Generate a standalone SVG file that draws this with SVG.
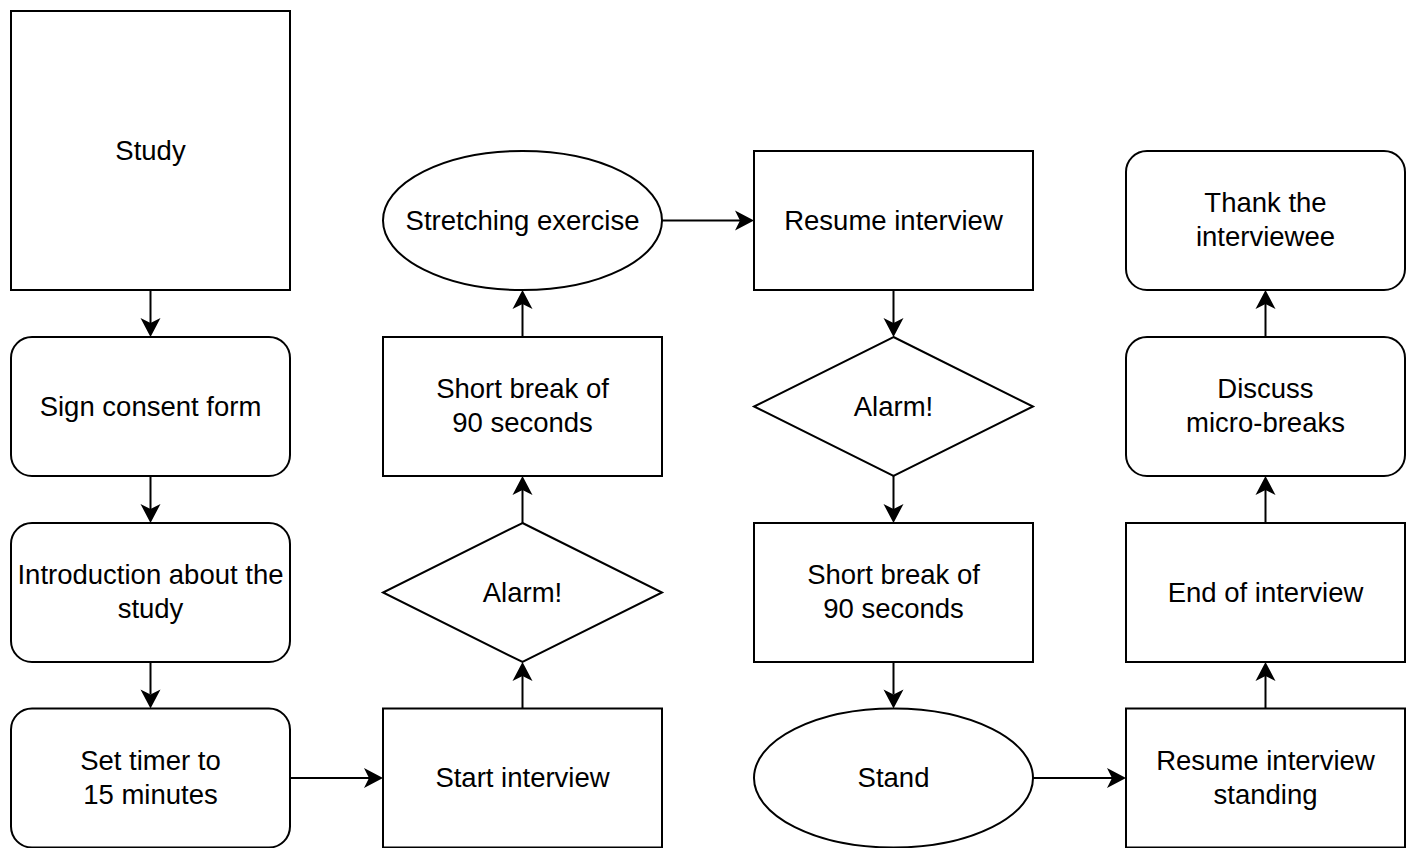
<svg xmlns="http://www.w3.org/2000/svg" width="1412" height="848" viewBox="0 0 1412 848">
  <style>
    .shape { fill: #ffffff; stroke: #000000; stroke-width: 2; }
    .label { font-family: "Liberation Sans", Arial, Helvetica, sans-serif; font-size: 27.5px; fill: #000000; text-anchor: middle; }
    .edge { fill: none; stroke: #000000; stroke-width: 2; marker-end: url(#arrow); }
  </style>
  <defs>
    <!-- classic filled arrowhead; origin sits at the notch, tip 14px ahead -->
    <marker id="arrow" markerUnits="userSpaceOnUse" viewBox="-6 -11 21 22" markerWidth="21" markerHeight="22" refX="0" refY="0" orient="auto">
      <path d="M14,0 L-5,-10 L0,0 L-5,10 Z" fill="#000000" stroke="none"/>
    </marker>
  </defs>
  <rect width="1412" height="848" fill="#ffffff"/>

  <!-- column 1 -->
  <g id="study">
    <rect class="shape" x="11" y="11" width="279" height="279"/>
    <text class="label" x="150.5" y="159.5">Study</text>
  </g>
  <g id="consent">
    <rect class="shape" x="11" y="337" width="279" height="139" rx="21" ry="21"/>
    <text class="label" x="150.5" y="415.5">Sign consent form</text>
  </g>
  <g id="intro">
    <rect class="shape" x="11" y="523" width="279" height="139" rx="21" ry="21"/>
    <text class="label" x="150.5" y="584">Introduction about the</text>
    <text class="label" x="150.5" y="618">study</text>
  </g>
  <g id="timer">
    <rect class="shape" x="11" y="708.5" width="279" height="139" rx="21" ry="21"/>
    <text class="label" x="150.5" y="769.5">Set timer to</text>
    <text class="label" x="150.5" y="803.5">15 minutes</text>
  </g>

  <!-- column 2 -->
  <g id="start">
    <rect class="shape" x="383" y="708.5" width="279" height="139"/>
    <text class="label" x="522.5" y="787">Start interview</text>
  </g>
  <g id="alarm1">
    <polygon class="shape" points="522.5,523 662,592.5 522.5,662 383,592.5"/>
    <text class="label" x="522.5" y="601.5">Alarm!</text>
  </g>
  <g id="break1">
    <rect class="shape" x="383" y="337" width="279" height="139"/>
    <text class="label" x="522.5" y="398">Short break of</text>
    <text class="label" x="522.5" y="432">90 seconds</text>
  </g>
  <g id="stretch">
    <ellipse class="shape" cx="522.5" cy="220.5" rx="139.5" ry="69.5"/>
    <text class="label" x="522.5" y="230">Stretching exercise</text>
  </g>

  <!-- column 3 -->
  <g id="resume">
    <rect class="shape" x="754" y="151" width="279" height="139"/>
    <text class="label" x="893.5" y="230">Resume interview</text>
  </g>
  <g id="alarm2">
    <polygon class="shape" points="893.5,337 1033,406.5 893.5,476 754,406.5"/>
    <text class="label" x="893.5" y="415.5">Alarm!</text>
  </g>
  <g id="break2">
    <rect class="shape" x="754" y="523" width="279" height="139"/>
    <text class="label" x="893.5" y="584">Short break of</text>
    <text class="label" x="893.5" y="618">90 seconds</text>
  </g>
  <g id="stand">
    <ellipse class="shape" cx="893.5" cy="778" rx="139.5" ry="69.5"/>
    <text class="label" x="893.5" y="787">Stand</text>
  </g>

  <!-- column 4 -->
  <g id="resume-standing">
    <rect class="shape" x="1126" y="708.5" width="279" height="139"/>
    <text class="label" x="1265.5" y="769.5">Resume interview</text>
    <text class="label" x="1265.5" y="803.5">standing</text>
  </g>
  <g id="end">
    <rect class="shape" x="1126" y="523" width="279" height="139"/>
    <text class="label" x="1265.5" y="601.5">End of interview</text>
  </g>
  <g id="discuss">
    <rect class="shape" x="1126" y="337" width="279" height="139" rx="21" ry="21"/>
    <text class="label" x="1265.5" y="398">Discuss</text>
    <text class="label" x="1265.5" y="432">micro-breaks</text>
  </g>
  <g id="thank">
    <rect class="shape" x="1126" y="151" width="279" height="139" rx="21" ry="21"/>
    <text class="label" x="1265.5" y="212">Thank the</text>
    <text class="label" x="1265.5" y="246">interviewee</text>
  </g>

  <!-- connectors -->
  <g id="connectors">
    <path class="edge" d="M150.5,290 V323"/>
    <path class="edge" d="M150.5,476 V509"/>
    <path class="edge" d="M150.5,662 V694.5"/>
    <path class="edge" d="M290,778 H369"/>
    <path class="edge" d="M522.5,708.5 V676"/>
    <path class="edge" d="M522.5,523 V490"/>
    <path class="edge" d="M522.5,337 V304"/>
    <path class="edge" d="M662,220.5 H740"/>
    <path class="edge" d="M893.5,290 V323"/>
    <path class="edge" d="M893.5,476 V509"/>
    <path class="edge" d="M893.5,662 V694.5"/>
    <path class="edge" d="M1033,778 H1112"/>
    <path class="edge" d="M1265.5,708.5 V676"/>
    <path class="edge" d="M1265.5,523 V490"/>
    <path class="edge" d="M1265.5,337 V304"/>
  </g>
</svg>
